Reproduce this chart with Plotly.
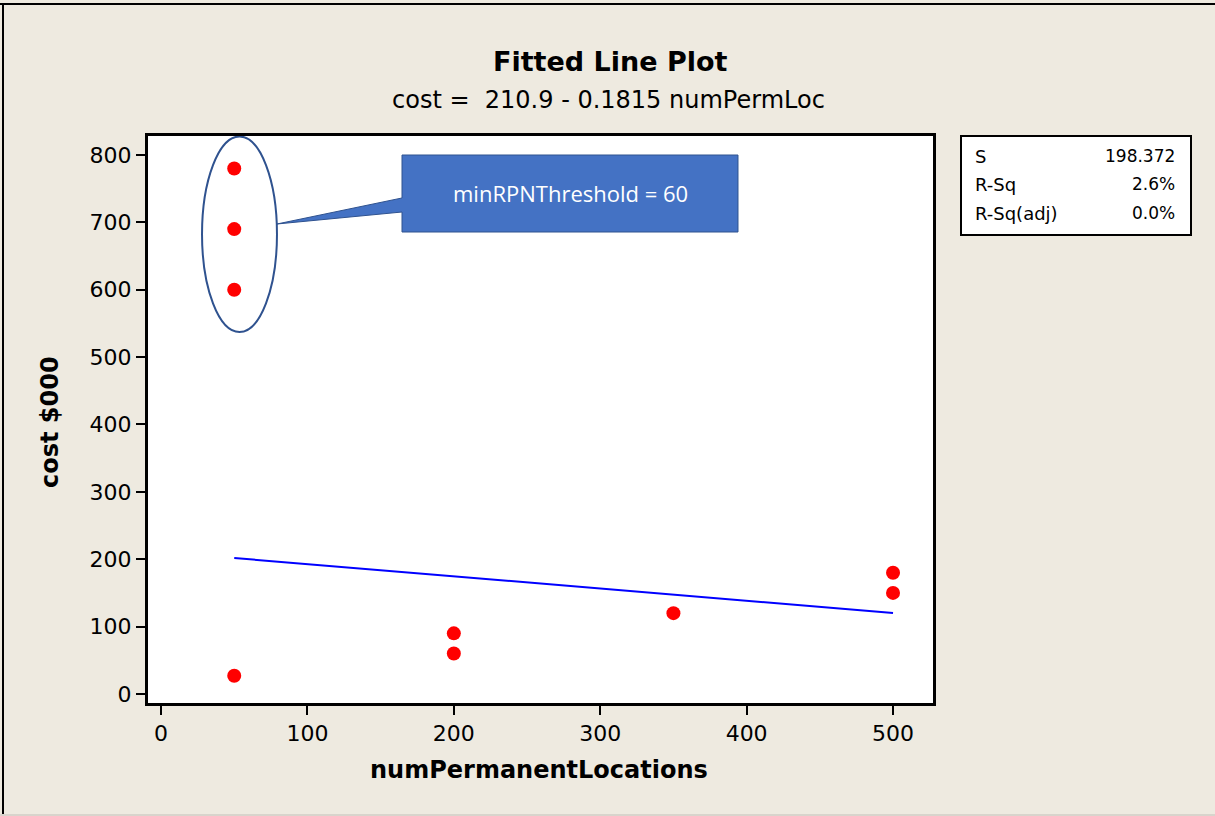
import plotly.graph_objects as go

# Observations
num_perm_loc = [50, 50, 50, 50, 200, 200, 350, 500, 500]
cost = [780, 690, 600, 27, 90, 60, 120, 180, 150]

# Regression fit: cost = intercept + slope * numPermLoc
intercept = 210.9
slope = -0.1815
fit_x = [50, 500]
fit_y = [intercept + slope * v for v in fit_x]

# Summary statistics
stat_names = ["S", "R-Sq", "R-Sq(adj)"]
stat_values = ["198.372", "2.6%", "0.0%"]

x_ticks = [0, 100, 200, 300, 400, 500]
y_ticks = [0, 100, 200, 300, 400, 500, 600, 700, 800]

BG = "#EEEAE0"
FONT = "DejaVu Sans"

# plot area in pixels
L, R, T, B = 148, 933, 136, 703
W, H = 1215, 816


def px(x):
    return (x - L) / (R - L)


def py(y):
    return (B - y) / (B - T)


fig = go.Figure()

fig.add_trace(go.Scatter(
    x=fit_x, y=fit_y, mode="lines",
    line=dict(color="#0000FF", width=2),
    hoverinfo="skip", showlegend=False,
))
fig.add_trace(go.Scatter(
    x=num_perm_loc, y=cost, mode="markers",
    marker=dict(color="#FF0000", size=14, line=dict(width=0)),
    showlegend=False,
))

shapes = []
# callout box with pointer
shapes.append(dict(
    type="path", xref="x", yref="y",
    path="M 164.6 800 L 394.1 800 L 394.1 685.7 L 164.6 685.7 "
         "L 164.6 715.4 L 79.2 697.6 L 164.6 736.2 Z",
    fillcolor="#4472C4", line=dict(color="#2F528F", width=1), layer="above",
))
# ellipse around the high-cost group
shapes.append(dict(
    type="circle", xref="x", yref="y",
    x0=28.0, x1=79.2, y0=537.3, y1=827.5,
    line=dict(color="#2F528F", width=2), layer="above",
))
# statistics box
shapes.append(dict(
    type="rect", xref="paper", yref="paper",
    x0=px(961), x1=px(1191), y0=py(235), y1=py(136),
    fillcolor="white", line=dict(color="black", width=2),
))
# outer frame lines
shapes.append(dict(type="line", xref="paper", yref="paper",
                   x0=px(0), x1=px(W), y0=py(4), y1=py(4),
                   line=dict(color="black", width=2)))
shapes.append(dict(type="line", xref="paper", yref="paper",
                   x0=px(3), x1=px(3), y0=py(4), y1=py(W),
                   line=dict(color="black", width=2)))
shapes.append(dict(type="line", xref="paper", yref="paper",
                   x0=px(0), x1=px(W), y0=py(815), y1=py(815),
                   line=dict(color="#D8D4CC", width=2)))

annotations = [
    dict(text="<b>Fitted Line Plot</b>", x=px(610), y=py(62),
         font=dict(family=FONT, size=27, color="black")),
    dict(text="cost =  210.9 - 0.1815 numPermLoc", x=px(608), y=py(100),
         font=dict(family=FONT, size=24, color="black")),
    dict(text="<b>cost $000</b>", x=px(50), y=py(422), textangle=-90,
         font=dict(family=FONT, size=24, color="black")),
    dict(text="<b>numPermanentLocations</b>", x=px(539), y=py(770),
         font=dict(family=FONT, size=24, color="black")),
    dict(text="minRPNThreshold = 60", xref="x", yref="y", x=279.4, y=743,
         font=dict(family="Open Sans", size=22, color="white")),
]
for i, (name, val) in enumerate(zip(stat_names, stat_values)):
    yy = py(156 + i * 28.5)
    annotations.append(dict(text=name, x=px(973), y=yy, xanchor="left",
                            font=dict(family=FONT, size=18, color="black")))
    annotations.append(dict(text=val, x=px(1177), y=yy, xanchor="right",
                            font=dict(family=FONT, size=17, color="black")))
for a in annotations:
    a.setdefault("xref", "paper")
    a.setdefault("yref", "paper")
    a.setdefault("xanchor", "center")
    a["yanchor"] = "middle"
    a["showarrow"] = False

axis_common = dict(
    showgrid=False, zeroline=False, showline=True, mirror=True,
    linecolor="black", linewidth=3, ticks="outside", ticklen=9,
    tickwidth=2, tickcolor="black",
    tickfont=dict(family=FONT, size=22, color="black"),
)

fig.update_layout(
    width=W, height=H,
    margin=dict(l=L, r=W - R, t=T, b=H - B, pad=0),
    paper_bgcolor=BG, plot_bgcolor="white",
    xaxis=dict(range=[-8.9, 527.3], tickvals=x_ticks, **axis_common),
    yaxis=dict(range=[-13.4, 828.2], tickvals=y_ticks, **axis_common),
    shapes=shapes, annotations=annotations,
    showlegend=False,
)

fig.write_html("out.html")
